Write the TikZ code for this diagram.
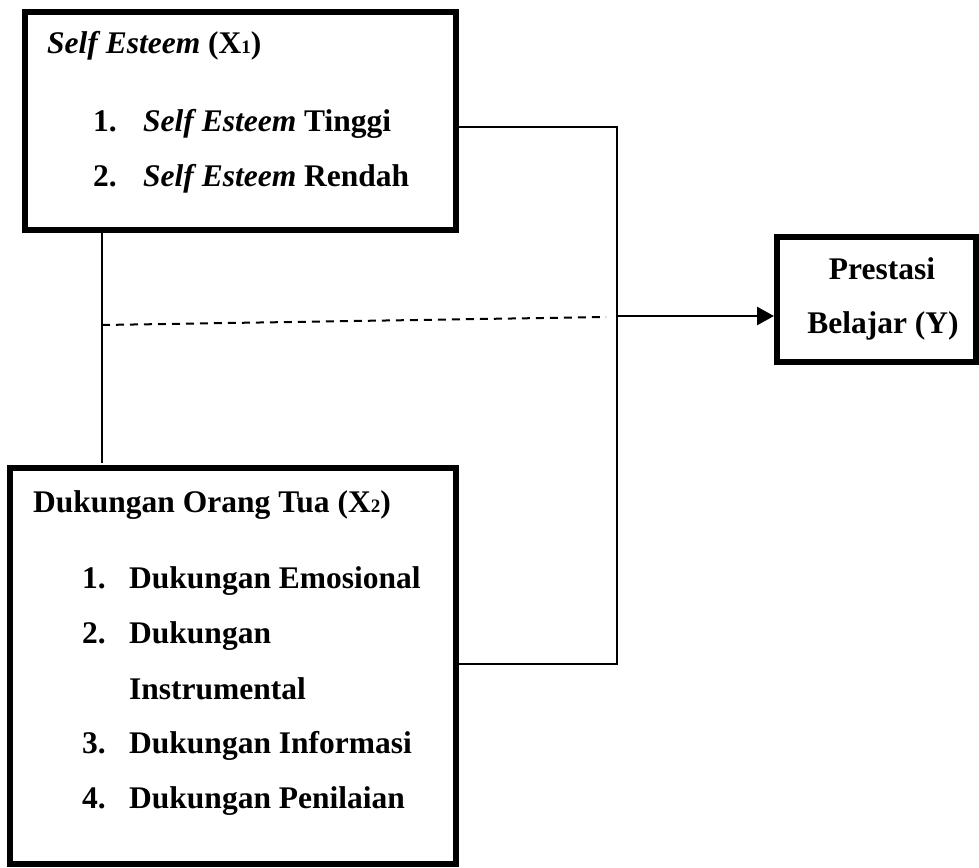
\documentclass[tikz,border=0pt]{standalone}
\usepackage{fontspec}
\setmainfont{Liberation Serif}
\usetikzlibrary{arrows.meta}
\newcommand{\subx}[1]{{\fontsize{19}{19}\selectfont #1}}
\begin{document}
\begin{tikzpicture}[x=1pt,y=-1pt,
  box/.style={draw,line width=6pt,inner sep=0pt,outer sep=0pt,anchor=north west},
  txt/.style={inner sep=0pt,anchor=base west,font=\fontsize{31.5}{40}\selectfont\bfseries},
  ctxt/.style={inner sep=0pt,anchor=base,font=\fontsize{31.5}{40}\selectfont\bfseries},
  conn/.style={line width=1.8pt},
  arr/.style={line width=2.7pt,-{Triangle[length=17pt,width=18pt]}},
  dsh/.style={line width=2pt,dash pattern=on 8pt off 6pt}]
\useasboundingbox (0,0) rectangle (979,867);
% boxes
\node[box,minimum width=431.5pt,minimum height=217.5pt] (b1) at (24.5,12.5) {};
\node[box,minimum width=446pt,minimum height=396pt] (b2) at (10,468) {};
\node[box,minimum width=199pt,minimum height=125pt] (b3) at (777,237) {};
% texts box 1
\node[txt] (t1) at (47,54) {\textit{Self Esteem} (X\subx{1})};
\node[txt] (n11) at (93,131) {1.};
\node[txt] (i11) at (143,131) {\textit{Self Esteem} Tinggi};
\node[txt] (n12) at (93,186) {2.};
\node[txt] (i12) at (143,186) {\textit{Self Esteem} Rendah};
% texts box 2
\node[txt] (t2) at (33,512) {Dukungan Orang Tua (X\subx{2})};
\node[txt] (n21) at (82,588) {1.};
\node[txt] (i21) at (129,588) {Dukungan Emosional};
\node[txt] (n22) at (82,643) {2.};
\node[txt] (i22) at (129,643) {Dukungan};
\node[txt] (i22b) at (129,699) {Instrumental};
\node[txt] (n23) at (82,753) {3.};
\node[txt] (i23) at (129,753) {Dukungan Informasi};
\node[txt] (n24) at (82,808) {4.};
\node[txt] (i24) at (129,808) {Dukungan Penilaian};
% texts box 3
\node[ctxt] (t3a) at (882,279) {Prestasi};
\node[ctxt] (t3b) at (883,333) {Belajar (Y)};
% connector points
\coordinate (jt) at (617,127);
\coordinate (jb) at (617,664);
\coordinate (jm) at (617,316);
\coordinate (vt) at (102,230);
\coordinate (vb) at (102,463);
\coordinate (dl) at (102,325);
\coordinate (dr) at (606,317);
% connectors
\draw[conn] (b1.east |- jt) -- (jt) -- (jb) -- (b2.east |- jb);
\draw[conn] (vt) -- (vb);
\draw[dsh] (dl) -- (dr);
\draw[arr] (jm) -- ([xshift=-3pt]b3.west |- jm);
\end{tikzpicture}
\end{document}
